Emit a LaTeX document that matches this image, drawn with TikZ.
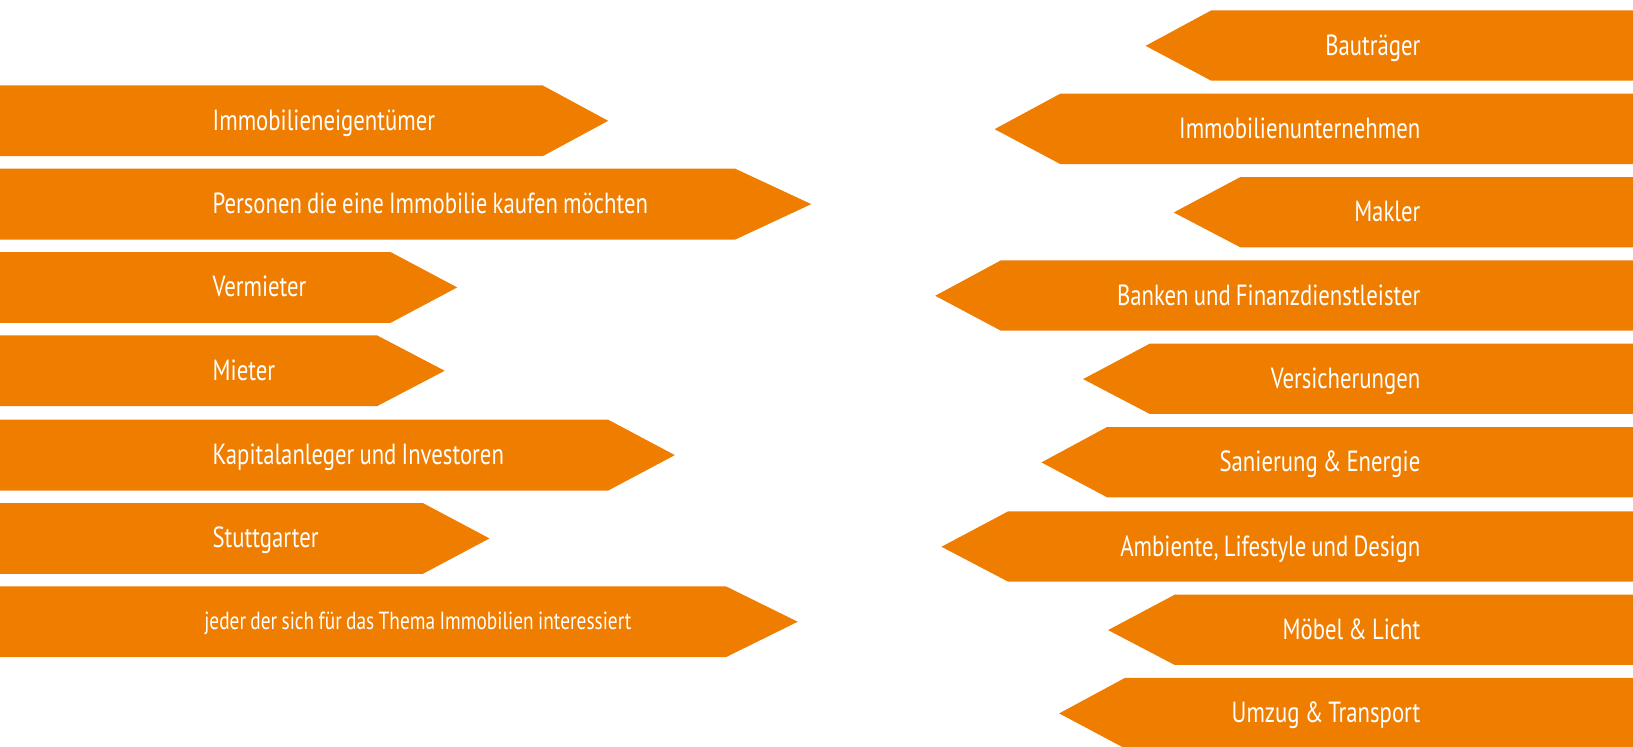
\documentclass[tikz,border=0pt]{standalone}
\usepackage{fontspec}
\setmainfont{PT Sans}[FakeStretch=0.78,WordSpace=0.85]
\definecolor{arrorange}{RGB}{239,125,0}
\tikzset{
  arr/.style={fill=arrorange},
  ltxt/.style={anchor=base west, inner sep=0pt, text=white, font=\fontsize{28}{30}\selectfont},
  rtxt/.style={anchor=base east, inner sep=0pt, text=white, font=\fontsize{28}{30}\selectfont},
  smalltxt/.style={font=\fontsize{23.8}{25}\selectfont}
}
\begin{document}
\begin{tikzpicture}[x=1pt,y=-1pt]
\useasboundingbox (0,0) rectangle (1568,717);
% left arrows
\foreach \t/\f/\p/\n/\txt in {
  82/521/584/l1/{Immobilieneigentümer},
  162/706/779/l2/{Personen die eine Immobilie kaufen möchten},
  242/375/439/l3/{Vermieter},
  322/362/427/l4/{Mieter},
  403/584/648/l5/{Kapitalanleger und Investoren},
  483/406/470/l6/{Stuttgarter}}{
  \fill[arr] (0,\t) -- (\f,\t) -- (\p,\t+34) -- (\f,\t+68) -- (0,\t+68) -- cycle;
  \node[ltxt] (\n) at (204,\t+43) {\txt};
}
\fill[arr] (0,563) -- (697,563) -- (766,597) -- (697,631) -- (0,631) -- cycle;
\node[ltxt,smalltxt] (l7) at (196,604) {jeder der sich für das Thema Immobilien interessiert};
% right arrows
\foreach \t/\f/\p/\n/\txt in {
  10/1163/1100/r1/{Bauträger},
  90/1018/955/r2/{Immobilienunternehmen},
  170/1191/1127/r3/{Makler},
  250/961/898/r4/{Banken und Finanzdienstleister},
  330/1104/1040/r5/{Versicherungen},
  410/1063/1000/r6/{Sanierung \& Energie},
  491/968/904/r7/{Ambiente, Lifestyle und Design},
  571/1128/1064/r8/{Möbel \& Licht},
  651/1080/1017/r9/{Umzug \& Transport}}{
  \fill[arr] (1568,\t) -- (\f,\t) -- (\p,\t+34) -- (\f,\t+67.5) -- (1568,\t+67.5) -- cycle;
  \node[rtxt] (\n) at (1364,\t+43) {\txt};
}
\end{tikzpicture}
\end{document}
